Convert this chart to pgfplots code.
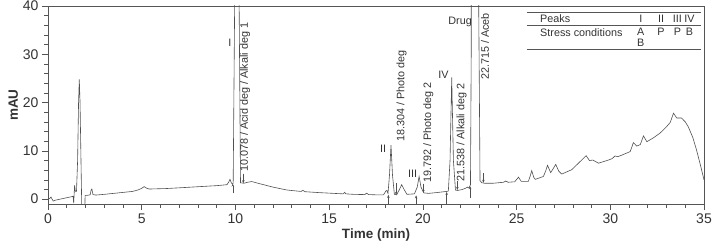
\documentclass[border=0pt]{standalone}
\usepackage{pgfplots}
\pgfplotsset{compat=1.18}
\usepackage{fontspec}
\setmainfont{Liberation Sans}
\usetikzlibrary{arrows.meta}
\definecolor{curve}{HTML}{505050}
\definecolor{frame}{HTML}{555555}
\definecolor{txt}{HTML}{333333}
\begin{document}
\begin{tikzpicture}
\begin{axis}[
  scale only axis,
  width=656pt, height=198pt,
  xmin=0, xmax=35, ymin=-1, ymax=40,
  xtick={0,5,...,35}, ytick={0,10,...,40},
  minor x tick num=4, minor y tick num=4,
  tick align=outside, xtick pos=left, ytick pos=left,
  major tick length=6pt, minor tick length=3.5pt,
  axis line style={frame, line width=0.7pt},
  every tick/.style={frame, line width=0.6pt},
  tick label style={font=\fontsize{14}{16}\selectfont, text=txt},
  /pgf/number format/assume math mode=true,
  xlabel={\textbf{Time (min)}}, ylabel={\textbf{mAU}},
  label style={font=\fontsize{13.5}{16}\selectfont, text=txt},
  xlabel style={yshift=2pt},
  ylabel style={yshift=-2pt},
  clip=true,
]
\addplot[curve, line width=0.6pt] table {
t v
0.00 0.05
0.10 0.15
0.16 0.45
0.22 0.0
0.28 -0.4
0.40 -0.2
0.70 0.05
1.00 0.3
1.30 0.55
1.34 0.6
1.37 -0.8
1.42 2.9
1.46 1.6
1.52 1.6
1.58 8
1.63 20
1.67 24.8
1.71 20
1.76 8
1.80 -1.5
1.85 -3
1.96 -3
1.98 0.8
2.10 0.8
2.25 0.9
2.30 1.9
2.34 2.1
2.40 0.95
2.55 0.85
3.00 1.0
3.50 1.2
4.00 1.4
4.50 1.6
4.80 1.9
5.00 2.25
5.13 2.6
5.25 2.3
5.40 2.1
6.30 2.2
7.00 2.35
8.10 2.6
9.00 2.8
9.55 3.0
9.65 3.6
9.71 4.1
9.78 3.4
9.84 3.1
9.88 3.3
10.00 60
10.08 120
10.16 60
10.27 3.4
10.45 3.3
10.65 3.5
10.87 3.65
11.20 3.3
11.50 3.0
12.00 2.5
12.74 1.9
13.50 1.6
13.60 1.85
13.70 1.55
14.50 1.35
15.05 1.24
15.75 1.1
15.82 1.4
15.90 1.1
16.30 1.0
16.90 0.95
17.00 1.25
17.10 0.95
17.50 0.9
17.90 0.9
18.03 1.7
18.08 1.8
18.14 1.2
18.22 5
18.30 11.2
18.38 5
18.48 1.0
18.60 0.9
18.75 2.0
18.87 3.0
19.00 2.0
19.15 1.0
19.55 1.1
19.70 2.5
19.80 4.7
19.90 2.5
20.05 1.3
20.30 1.2
20.74 1.37
21.27 1.6
21.36 1.7
21.45 8
21.54 25.2
21.63 8
21.74 1.9
21.85 1.8
22.10 2.0
22.30 2.3
22.38 2.5
22.46 2.3
22.54 3
22.58 30
22.62 200
22.75 400
22.90 200
22.98 40
23.05 3.8
23.15 3.4
23.30 3.3
23.76 3.3
24.30 3.5
24.42 3.75
24.55 3.5
24.90 3.6
25.10 4.55
25.25 3.7
25.63 3.7
25.72 4.7
25.81 5.9
25.92 4.5
26.00 4.1
26.43 4.7
26.55 5.8
26.65 7.0
26.82 5.5
26.95 6.3
27.09 7.2
27.25 5.8
27.41 5.2
27.94 6.1
28.30 7.45
28.71 9.0
28.89 8.0
29.07 8.1
29.37 7.45
29.90 8.1
30.10 8.4
30.25 8.95
30.40 8.8
30.60 9.1
31.06 9.85
31.15 10.8
31.23 11.7
31.41 11.0
31.60 11.3
31.77 13.1
31.95 11.9
32.30 12.7
32.66 13.7
33.00 15.0
33.20 15.9
33.37 17.8
33.55 16.8
33.80 16.8
34.00 16.0
34.16 15.0
34.40 12.8
34.60 10.2
34.80 7.2
35.00 4.0
};
\addplot[curve, line width=0.5pt, -{Stealth[length=3pt,width=2.4pt]},
  quiver={u=\thisrow{u}, v=\thisrow{w}}] table {
x y u w
9.86 1.2 0 2.0
10.42 5.3 0 -2.0
18.16 -1 0 1.9
18.57 3.3 0 -2.4
19.64 -1 0 1.8
20.03 3.2 0 -1.9
21.27 -1 0 2.5
21.84 3.8 0 -1.9
22.52 0.3 0 2.4
23.23 5.4 0 -2.0
};
% peak labels
\begin{scope}[every node/.style={font=\fontsize{10.8}{12}\selectfont, text=txt, inner sep=0pt}]
\node[rotate=90, anchor=west] at (axis cs:10.51,5.65) {10.078 / Acid deg / Alkali deg 1};
\node[rotate=90, anchor=west] at (axis cs:18.87,11.9) {18.304 / Photo deg};
\node[rotate=90, anchor=west] at (axis cs:20.29,3.4) {19.792 / Photo deg 2};
\node[rotate=90, anchor=west] at (axis cs:22.07,3.6) {21.538 / Alkali deg 2};
\node[rotate=90, anchor=west] at (axis cs:23.32,24.7) {22.715 / Aceb};
\node at (axis cs:9.71,32.3) {I};
\node at (axis cs:17.88,10.4) {II};
\node at (axis cs:19.45,5.2) {III};
\node at (axis cs:21.1,25.7) {IV};
\node[anchor=east] at (axis cs:22.62,36.7) {Drug};
% table
\node[anchor=west] at (axis cs:26.25,37.33) {Peaks};
\node[anchor=west] at (axis cs:26.25,34.58) {Stress conditions};
\node at (axis cs:31.63,37.33) {I};
\node at (axis cs:32.71,37.33) {II};
\node at (axis cs:33.58,37.33) {III};
\node at (axis cs:34.22,37.33) {IV};
\node at (axis cs:31.63,34.58) {A};
\node at (axis cs:32.71,34.58) {P};
\node at (axis cs:33.58,34.58) {P};
\node at (axis cs:34.22,34.58) {B};
\node at (axis cs:31.63,32.42) {B};
\end{scope}
\draw[frame, line width=0.7pt] (axis cs:25.54,38.63) -- (axis cs:34.83,38.63);
\draw[frame, line width=0.7pt] (axis cs:25.54,36.09) -- (axis cs:34.83,36.09);
\draw[frame, line width=0.7pt] (axis cs:25.54,31.06) -- (axis cs:34.83,31.06);
\end{axis}
\pgfresetboundingbox
\path ([xshift=-48pt,yshift=-45pt]current axis.south west) rectangle ([xshift=10pt,yshift=6pt]current axis.north east);
\end{tikzpicture}
\end{document}
